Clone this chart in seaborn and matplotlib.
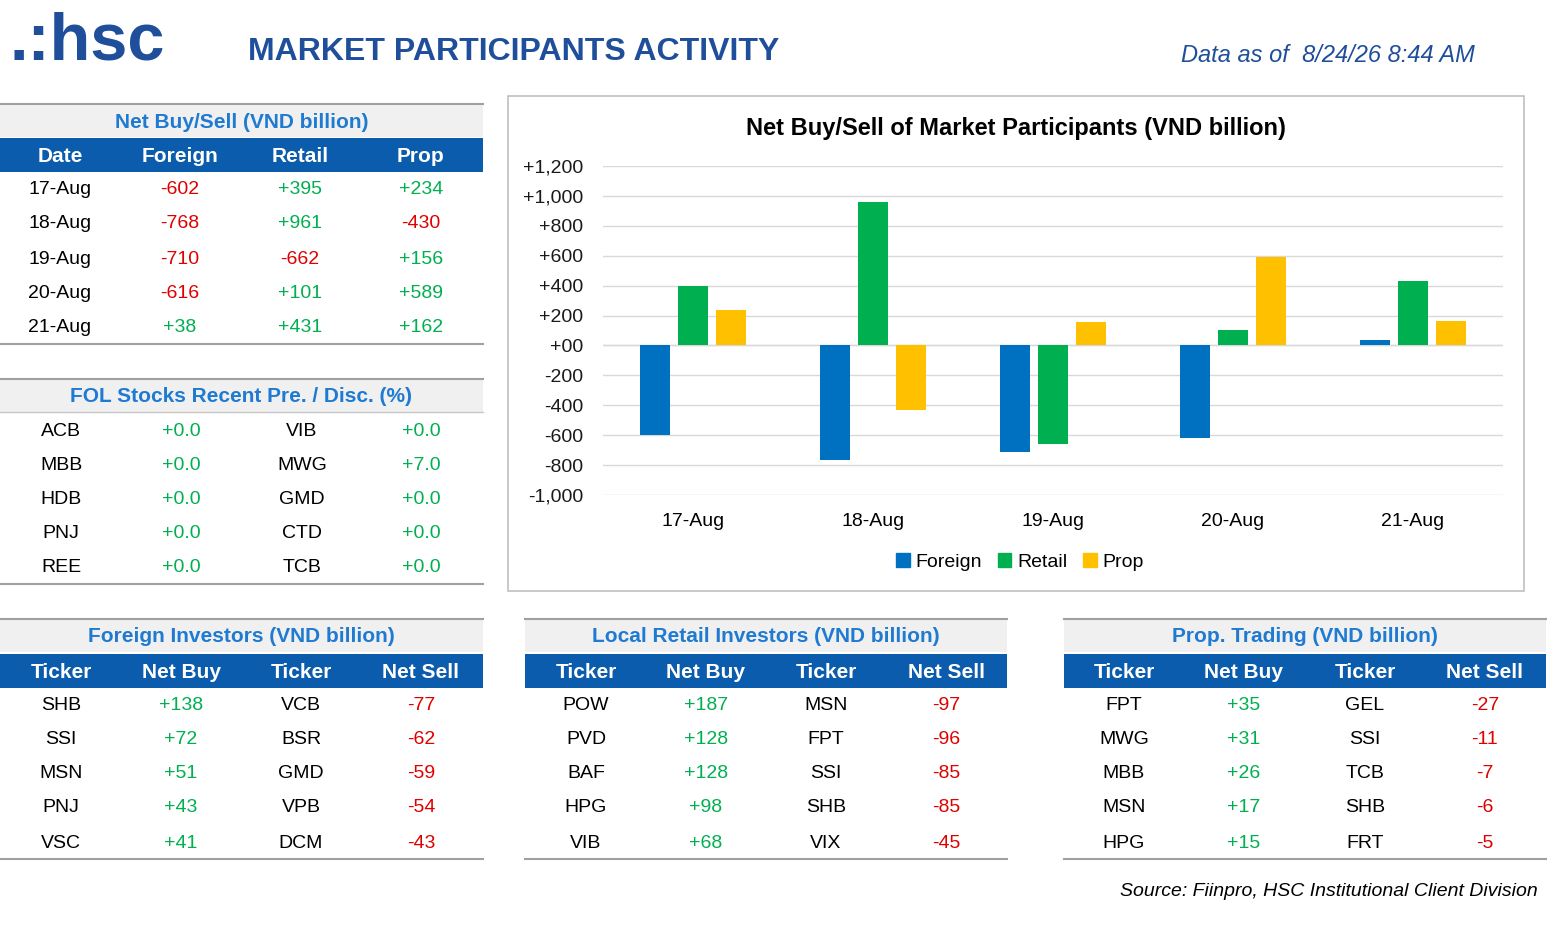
import matplotlib
matplotlib.use("Agg")
import matplotlib.pyplot as plt
import seaborn as sns
import pandas as pd
from matplotlib.patches import Rectangle

dates = ["17-Aug", "18-Aug", "19-Aug", "20-Aug", "21-Aug"]
foreign = [-602, -768, -710, -616, 38]
retail = [395, 961, -662, 101, 431]
prop = [234, -430, 156, 589, 162]

fol_left = ["ACB", "MBB", "HDB", "PNJ", "REE"]
fol_left_v = [0.0, 0.0, 0.0, 0.0, 0.0]
fol_right = ["VIB", "MWG", "GMD", "CTD", "TCB"]
fol_right_v = [0.0, 7.0, 0.0, 0.0, 0.0]

f_buy_t = ["SHB", "SSI", "MSN", "PNJ", "VSC"]; f_buy_v = [138, 72, 51, 43, 41]
f_sell_t = ["VCB", "BSR", "GMD", "VPB", "DCM"]; f_sell_v = [-77, -62, -59, -54, -43]
r_buy_t = ["POW", "PVD", "BAF", "HPG", "VIB"]; r_buy_v = [187, 128, 128, 98, 68]
r_sell_t = ["MSN", "FPT", "SSI", "SHB", "VIX"]; r_sell_v = [-97, -96, -85, -85, -45]
p_buy_t = ["FPT", "MWG", "MBB", "MSN", "HPG"]; p_buy_v = [35, 31, 26, 17, 15]
p_sell_t = ["GEL", "SSI", "TCB", "SHB", "FRT"]; p_sell_v = [-27, -11, -7, -6, -5]

W, H = 1547, 927
fig = plt.figure(figsize=(W/100, H/100), dpi=100)
FONT = ['Liberation Sans', 'DejaVu Sans']
plt.rcParams['font.family'] = FONT

def fx(x): return x / W
def fy(y): return 1 - y / H

DARK = "#1f4e9a"; HBLUE = "#0b5cad"; SBLUE = "#1f7ad1"
GREEN = "#00b050"; RED = "#e00000"; GRAY = "#f0f0f0"

def txt(x, y, s, size=14, color="black", weight="normal", ha="center", style="normal"):
    fig.text(fx(x), fy(y+2), s, fontsize=size, color=color, weight=weight, ha=ha,
             va="center", style=style, family=FONT)

def rect(x0, y0, x1, y1, color, ec="none", lw=0, z=1):
    fig.patches.append(Rectangle((fx(x0), fy(y1)), (x1-x0)/W, (y1-y0)/H,
                                 transform=fig.transFigure, facecolor=color,
                                 edgecolor=ec, lw=lw, zorder=z))

def hline(x0, x1, y, color="#a0a0a0", lw=1.5):
    fig.add_artist(plt.Line2D([fx(x0), fx(x1)], [fy(y), fy(y)], color=color, lw=lw))

def sgn(v): return "{:+,.0f}".format(v)
def col(v): return GREEN if v >= 0 else RED

txt(10, 40, ".:hsc", size=48, color=DARK, weight="bold", ha="left")
txt(248, 50, "MARKET PARTICIPANTS ACTIVITY", size=23, color=DARK, weight="bold", ha="left")
txt(1475, 53, "Data as of  8/24/26 8:44 AM", size=17, color=DARK, ha="right", style="italic")

def section(x0, x1, y0, title):
    rect(x0, y0, x1, y0+33, GRAY)
    hline(x0, x1, y0, lw=1.5)
    txt((x0+x1)/2, y0+16, title, size=15, color=SBLUE, weight="bold")

def header(x0, x1, y0, cols, labels):
    rect(x0, y0, x1, y0+34, HBLUE)
    for c, l in zip(cols, labels):
        txt(c, y0+17, l, size=15, color="white", weight="bold")

c1 = [60, 180, 300, 421]
section(0, 483, 104, "Net Buy/Sell (VND billion)")
header(0, 483, 138, c1, ["Date", "Foreign", "Retail", "Prop"])
ys = [188, 222, 257, 292, 326]
for i, y in enumerate(ys):
    txt(c1[0], y, dates[i], size=14)
    for j, arr in enumerate([foreign, retail, prop]):
        txt(c1[j+1], y, sgn(arr[i]), size=14, color=col(arr[i]))
hline(0, 483, 344)

section(0, 483, 379, "FOL Stocks Recent Pre. / Disc. (%)")
hline(0, 483, 412, color="#c8c8c8", lw=1)
ys2 = [429, 463, 497, 532, 566]
for i, y in enumerate(ys2):
    txt(61, y, fol_left[i], size=14)
    txt(181, y, "{:+.1f}".format(fol_left_v[i]), size=14, color=GREEN)
    txt(302, y, fol_right[i], size=14)
    txt(421, y, "{:+.1f}".format(fol_right_v[i]), size=14, color=GREEN)
hline(0, 483, 584)

ys3 = [704, 738, 772, 806, 841]
tabs = [
    (0, 483, [61, 181, 301, 421], "Foreign Investors (VND billion)", f_buy_t, f_buy_v, f_sell_t, f_sell_v),
    (525, 1007, [586, 706, 826, 946], "Local Retail Investors (VND billion)", r_buy_t, r_buy_v, r_sell_t, r_sell_v),
    (1064, 1546, [1124, 1244, 1365, 1485], "Prop. Trading (VND billion)", p_buy_t, p_buy_v, p_sell_t, p_sell_v),
]
for x0, x1, cc, title, bt, bv, st, sv in tabs:
    section(x0, x1, 619, title)
    header(x0, x1, 654, cc, ["Ticker", "Net Buy", "Ticker", "Net Sell"])
    for i, y in enumerate(ys3):
        txt(cc[0], y, bt[i], size=14)
        txt(cc[1], y, sgn(bv[i]), size=14, color=GREEN)
        txt(cc[2], y, st[i], size=14)
        txt(cc[3], y, sgn(sv[i]), size=14, color=RED)
    hline(x0, x1, 859)

txt(1538, 889, "Source: Fiinpro, HSC Institutional Client Division", size=14, ha="right", style="italic")

rect(508, 96, 1524, 591, "none", ec="#c0c0c0", lw=1.2)
txt(1016, 126, "Net Buy/Sell of Market Participants (VND billion)", size=17, weight="bold")

ax = fig.add_axes([fx(603), fy(495), (1503-603)/W, (495-166)/H])
ax.set_zorder(5)
ax.patch.set_alpha(0)
df = pd.DataFrame({
    "Date": dates * 3,
    "Value": foreign + retail + prop,
    "Type": ["Foreign"]*5 + ["Retail"]*5 + ["Prop"]*5,
})
sns.barplot(data=df, x="Date", y="Value", hue="Type", ax=ax,
            palette=["#0070c0", "#00b050", "#ffc000"], width=0.63, gap=0.2, saturation=1)
ax.set_ylim(-1000, 1200)
ticks = list(range(-1000, 1201, 200))
ax.set_yticks(ticks)
ax.set_yticklabels(["+00" if t == 0 else "{:+,d}".format(t) for t in ticks],
                   fontsize=14, color="#1a1a1a", family=FONT)
ax.grid(axis="y", color="#d9d9d9", lw=1)
ax.set_axisbelow(True)
for s in ax.spines.values():
    s.set_visible(False)
ax.axhline(0, color="#d9d9d9", lw=1, zorder=0)
ax.tick_params(axis="both", length=0)
ax.tick_params(axis="y", pad=14)
ax.set_xticks(range(5))
ax.set_xticklabels([])
ax.set_xlabel(""); ax.set_ylabel("")
ax.get_legend().remove()
for i, d in enumerate(dates):
    ax.text(i, -1175, d, ha="center", va="center", fontsize=14, family=FONT)
handles = [Rectangle((0, 0), 1, 1, color=c) for c in ["#0070c0", "#00b050", "#ffc000"]]
fig.legend(handles, ["Foreign", "Retail", "Prop"], loc="center", ncol=3,
           bbox_to_anchor=(fx(1020), fy(562)), frameon=False,
           handlelength=0.7, handleheight=0.7, handletextpad=0.3, columnspacing=0.8,
           prop={'family': FONT, 'size': 14})

fig.savefig("out.png", dpi=100)
